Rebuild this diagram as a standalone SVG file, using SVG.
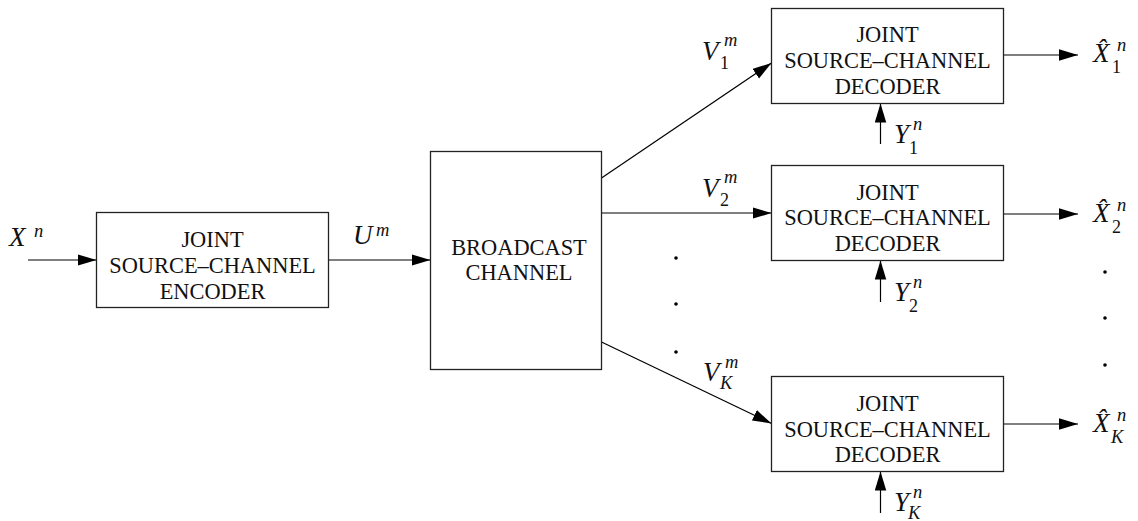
<svg xmlns="http://www.w3.org/2000/svg" width="1138" height="521" viewBox="0 0 1138 521">
  <style>
    .box { fill: #fff; stroke: #222; stroke-width: 1.3; }
    .wire { fill: none; stroke: #000; stroke-width: 1.2; }
    .lbl { font-family: "Liberation Serif", "Times New Roman", serif; font-size: 22.4px; fill: #111; text-anchor: middle; }
    .mi { font-family: "Liberation Serif", "Times New Roman", serif; font-style: italic; font-size: 27px; fill: #111; }
    .ms { font-style: italic; font-size: 18.5px; }
    .md { font-style: normal; font-size: 18px; }
    .dot { fill: #000; }
  </style>
  <defs>
    <marker id="arrow" markerUnits="userSpaceOnUse" markerWidth="20" markerHeight="12" refX="19" refY="5.75" orient="auto">
      <path d="M0,0 L19,5.75 L0,11.5 Z" fill="#000"/>
    </marker>
  </defs>

  <rect width="1138" height="521" fill="#fff"/>

  <!-- connectors -->
  <g id="connectors">
    <path class="wire" d="M28,260 H96.5" marker-end="url(#arrow)"/>
    <path class="wire" d="M328.5,260 H430.5" marker-end="url(#arrow)"/>
    <path class="wire" d="M601.5,178 L771.5,63" marker-end="url(#arrow)"/>
    <path class="wire" d="M601.5,213 H771.5" marker-end="url(#arrow)"/>
    <path class="wire" d="M601.5,342 L771.5,423.5" marker-end="url(#arrow)"/>
    <path class="wire" d="M1003.5,55 H1078" marker-end="url(#arrow)"/>
    <path class="wire" d="M1003.5,214 H1078" marker-end="url(#arrow)"/>
    <path class="wire" d="M1003.5,424 H1078" marker-end="url(#arrow)"/>
    <path class="wire" d="M880.5,144 V103.5" marker-end="url(#arrow)"/>
    <path class="wire" d="M880.5,302 V260.5" marker-end="url(#arrow)"/>
    <path class="wire" d="M880.5,513 V471.5" marker-end="url(#arrow)"/>
  </g>

  <!-- encoder -->
  <g id="encoder">
    <rect class="box" x="96.5" y="212.5" width="232" height="95"/>
    <text class="lbl" x="212.5" y="246.5">JOINT</text>
    <text class="lbl" x="212.5" y="273">SOURCE–CHANNEL</text>
    <text class="lbl" x="212.5" y="298.5">ENCODER</text>
  </g>

  <!-- broadcast channel -->
  <g id="channel">
    <rect class="box" x="430.5" y="151.5" width="171" height="218"/>
    <text class="lbl" x="519" y="254.5">BROADCAST</text>
    <text class="lbl" x="519" y="280">CHANNEL</text>
  </g>

  <!-- decoders -->
  <g id="decoder-1">
    <rect class="box" x="771.5" y="8.5" width="232" height="95"/>
    <text class="lbl" x="887.5" y="41.5">JOINT</text>
    <text class="lbl" x="887.5" y="67.5">SOURCE–CHANNEL</text>
    <text class="lbl" x="887.5" y="93.5">DECODER</text>
  </g>
  <g id="decoder-2">
    <rect class="box" x="771.5" y="165.5" width="232" height="95"/>
    <text class="lbl" x="887.5" y="199.5">JOINT</text>
    <text class="lbl" x="887.5" y="225">SOURCE–CHANNEL</text>
    <text class="lbl" x="887.5" y="250.5">DECODER</text>
  </g>
  <g id="decoder-K">
    <rect class="box" x="771.5" y="376.5" width="232" height="95"/>
    <text class="lbl" x="887.5" y="411">JOINT</text>
    <text class="lbl" x="887.5" y="437">SOURCE–CHANNEL</text>
    <text class="lbl" x="887.5" y="462">DECODER</text>
  </g>

  <!-- ellipsis dots -->
  <g id="dots">
    <circle class="dot" cx="676" cy="258" r="1.8"/>
    <circle class="dot" cx="676" cy="304" r="1.8"/>
    <circle class="dot" cx="676" cy="352" r="1.8"/>
    <circle class="dot" cx="1105" cy="272" r="1.8"/>
    <circle class="dot" cx="1105" cy="318" r="1.8"/>
    <circle class="dot" cx="1105" cy="365" r="1.8"/>
  </g>

  <!-- signal labels: base symbol with scripts as positioned tspans -->
  <g id="labels">
    <text class="mi" x="9" y="246">X<tspan class="ms" x="34" y="237">n</tspan></text>
    <text class="mi" x="353" y="244">U<tspan class="ms" x="376" y="236">m</tspan></text>

    <text class="mi" x="702" y="60">V<tspan class="ms" x="724" y="46">m</tspan><tspan class="md" x="720" y="69">1</tspan></text>
    <text class="mi" x="702" y="197">V<tspan class="ms" x="724" y="183">m</tspan><tspan class="md" x="720" y="206">2</tspan></text>
    <text class="mi" x="703" y="381">V<tspan class="ms" x="725" y="368">m</tspan><tspan class="ms" x="720" y="389">K</tspan></text>

    <text class="mi" x="1093" y="62">X&#x302;<tspan class="ms" x="1117" y="51">n</tspan><tspan class="md" x="1112" y="72.5">1</tspan></text>
    <text class="mi" x="1093" y="222">X&#x302;<tspan class="ms" x="1117" y="211">n</tspan><tspan class="md" x="1112" y="232.5">2</tspan></text>
    <text class="mi" x="1093" y="432">X&#x302;<tspan class="ms" x="1117" y="421">n</tspan><tspan class="ms" x="1111" y="442.5">K</tspan></text>

    <text class="mi" x="894" y="143">Y<tspan class="ms" x="913" y="130">n</tspan><tspan class="md" x="909" y="154">1</tspan></text>
    <text class="mi" x="894" y="301">Y<tspan class="ms" x="913" y="288">n</tspan><tspan class="md" x="909" y="312">2</tspan></text>
    <text class="mi" x="894" y="511">Y<tspan class="ms" x="913" y="498">n</tspan><tspan class="ms" x="908" y="519">K</tspan></text>
  </g>
</svg>
